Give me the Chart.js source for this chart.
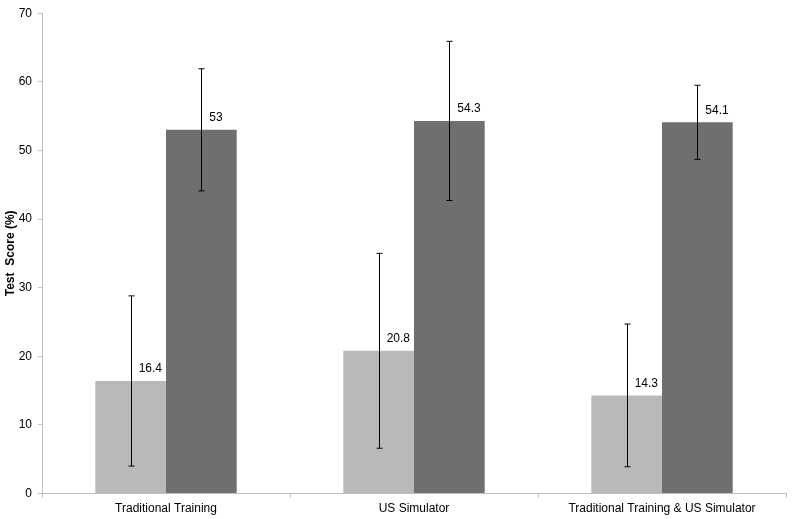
<!DOCTYPE html>
<html>
<head>
<meta charset="utf-8">
<script src="https://cdn.jsdelivr.net/npm/chart.js@4.4.0/dist/chart.umd.min.js"></script>
<style>
  html, body { margin: 0; padding: 0; background: #fff; }
  #wrap { width: 792px; height: 519px; position: relative; }
</style>
</head>
<body>
<div id="wrap"><canvas id="myChart"></canvas></div>
<script>
// chart data
const categories = ["Traditional Training", "US Simulator", "Traditional Training & US Simulator"];
const lightScores = [16.4, 20.8, 14.3];
const darkScores = [53, 54.3, 54.1];
const lightErrors = [12.4, 14.2, 10.4];
const darkErrors = [8.9, 11.6, 5.4];
const yTicks = [0, 10, 20, 30, 40, 50, 60, 70];

// error bars + value labels
const errorBarPlugin = {
    id: 'errorBars',
    afterDatasetsDraw(chart) {
        const ctx = chart.ctx;
        const yScale = chart.scales.y;
        chart.data.datasets.forEach((dataset, di) => {
            const meta = chart.getDatasetMeta(di);
            meta.data.forEach((bar, i) => {
                const v = dataset.data[i];
                const err = dataset.errors[i];
                const x = Math.round(bar.x) + 0.5;
                const yTop = yScale.getPixelForValue(v + err);
                const yBot = yScale.getPixelForValue(v - err);
                ctx.save();
                ctx.strokeStyle = '#000';
                ctx.lineWidth = 1;
                ctx.beginPath();
                ctx.moveTo(x, yTop); ctx.lineTo(x, yBot);
                ctx.moveTo(x - 3, yTop); ctx.lineTo(x + 3, yTop);
                ctx.moveTo(x - 3, yBot); ctx.lineTo(x + 3, yBot);
                ctx.stroke();

                // value label
                ctx.fillStyle = '#000';
                ctx.font = '12px "Liberation Sans", Arial, sans-serif';
                ctx.textAlign = 'left';
                ctx.textBaseline = 'middle';
                ctx.fillText(String(v), bar.x + 8, bar.y - 12);
                ctx.restore();
            });
        });
    }
};

const ctx = document.getElementById('myChart').getContext('2d');
new Chart(ctx, {
    type: 'bar',
    data: {
        labels: categories,
        datasets: [
            { label: 'Before', data: lightScores, errors: lightErrors, backgroundColor: '#b9b9b9' },
            { label: 'After',  data: darkScores,  errors: darkErrors,  backgroundColor: '#6f6f6f' }
        ]
    },
    options: {
        responsive: true,
        maintainAspectRatio: false,
        animation: false,
        categoryPercentage: 0.57,
        barPercentage: 1,
        layout: { padding: { top: 8, right: 6, bottom: 0, left: 0 } },
        plugins: {
            legend: { display: false },
            tooltip: { enabled: false }
        },
        scales: {
            x: {
                grid: { drawOnChartArea: false, drawTicks: true, tickLength: 4, offset: true, color: '#bfbfbf' },
                border: { color: '#bfbfbf' },
                ticks: { color: '#000', font: { family: '"Liberation Sans", Arial, sans-serif', size: 12 }, padding: 4, maxRotation: 0 },
                afterFit(scale) { scale.height = 25.5; }
            },
            y: {
                min: 0,
                max: 70,
                afterBuildTicks(scale) { scale.ticks = yTicks.map(v => ({ value: v })); },
                grid: { drawOnChartArea: false, drawTicks: true, tickLength: 4, color: '#bfbfbf' },
                border: { color: '#bfbfbf' },
                ticks: { color: '#000', font: { family: '"Liberation Sans", Arial, sans-serif', size: 12 }, padding: 6 },
                title: {
                    display: true,
                    text: 'Test  Score (%)',
                    color: '#000',
                    font: { family: '"Liberation Sans", Arial, sans-serif', size: 12, weight: 'bold' },
                    padding: { top: 3, bottom: 0 }
                },
                afterFit(scale) { scale.width = 42; }
            }
        }
    },
    plugins: [errorBarPlugin]
});
</script>
</body>
</html>
